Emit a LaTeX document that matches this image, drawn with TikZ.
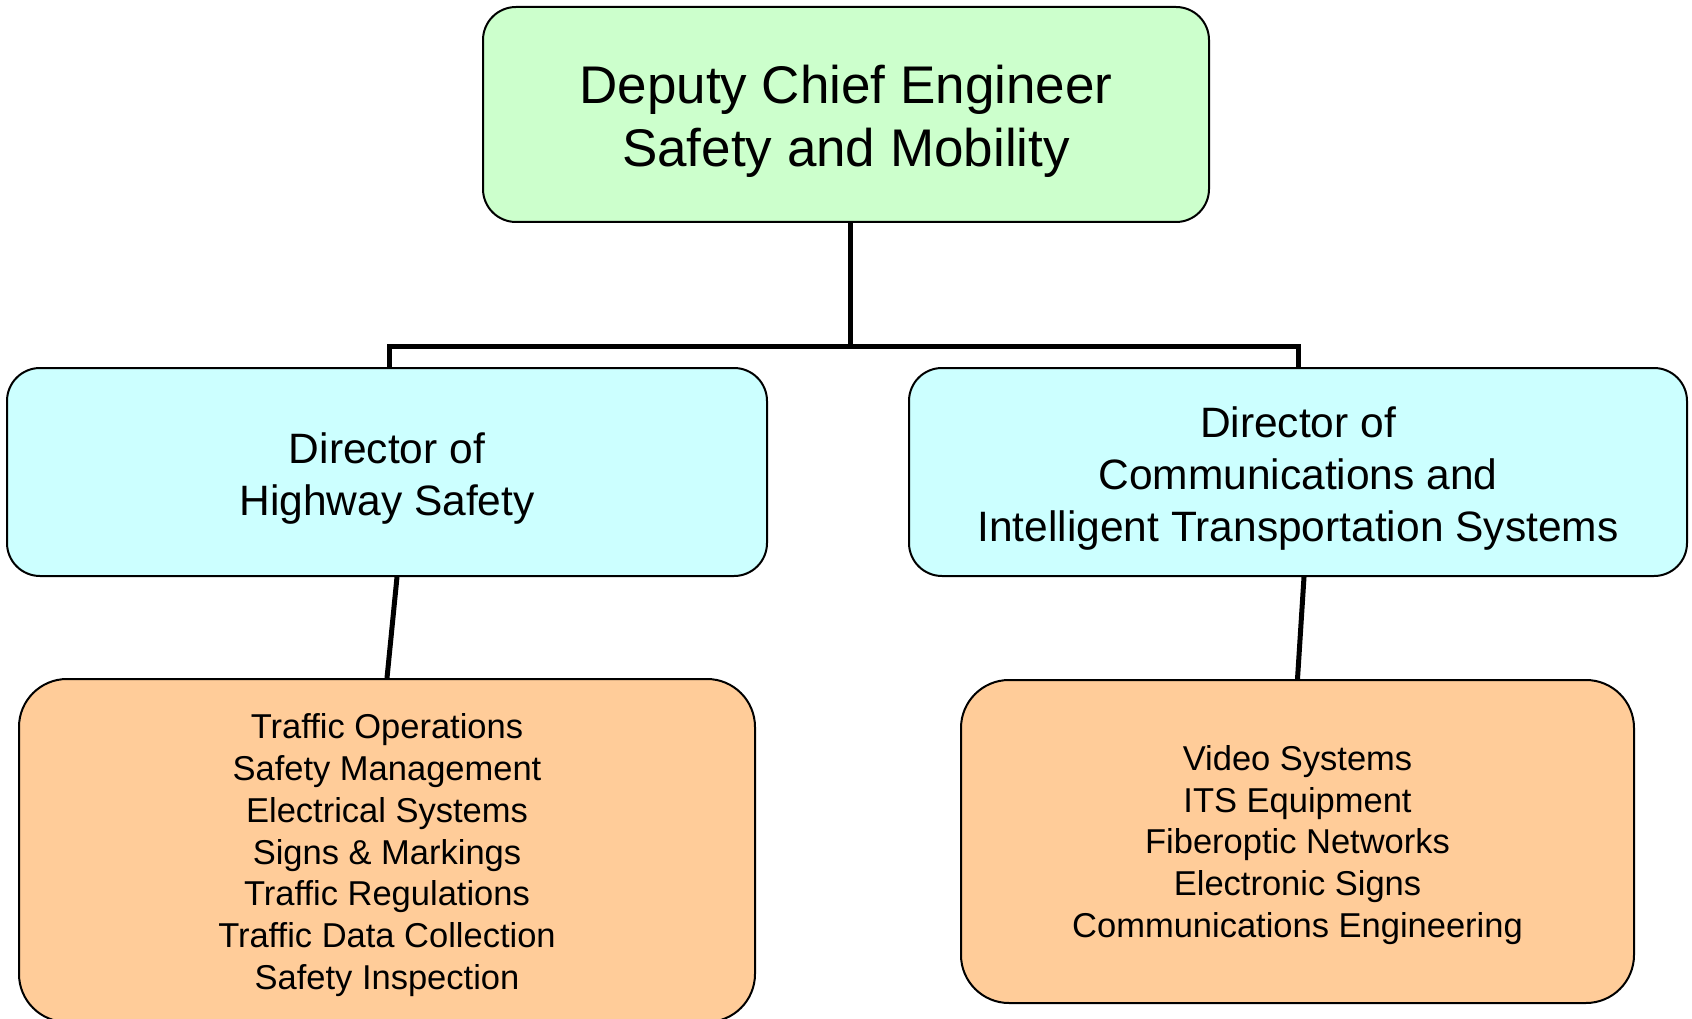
\documentclass[tikz,border=0pt]{standalone}
\usepackage{fontspec}
\setmainfont{Liberation Sans}
\usepackage{tikz}
\usetikzlibrary{calc, positioning}

\definecolor{chiefgreen}{HTML}{CCFFCC}
\definecolor{dircyan}{HTML}{CCFFFF}
\definecolor{unitorange}{HTML}{FFCC99}

\begin{document}
\begin{tikzpicture}[
    x=1pt, y=-1pt,
    box/.style={draw=black, line width=2pt, rounded corners=33pt, align=center, inner sep=0pt},
    chiefbox/.style={box, fill=chiefgreen, font=\fontsize{53}{63}\selectfont},
    dirbox/.style={box, fill=dircyan, font=\fontsize{42.5}{52}\selectfont},
    unitbox/.style={box, fill=unitorange, rounded corners=48pt, font=\fontsize{34.5}{41.7}\selectfont},
    link/.style={line width=5pt, draw=black}
]
    \useasboundingbox (0,0) rectangle (1692,1019);

    % Deputy Chief Engineer
    \node[chiefbox, text height=114.7pt, minimum width=726, minimum height=215] (dce) at (846,114.5)
        {Deputy Chief Engineer\\Safety and Mobility};

    % Directors
    \node[dirbox, text height=96pt, minimum width=760, minimum height=208] (hs) at (387,472)
        {Director of\\Highway Safety};
    \node[dirbox, text height=148pt, minimum width=778, minimum height=208] (its) at (1298,472)
        {Director of\\Communications and\\Intelligent Transportation Systems};

    % Units
    \node[unitbox, text height=284.4pt, minimum width=736, minimum height=343] (hsunits) at (387,850.5)
        {Traffic Operations\\Safety Management\\Electrical Systems\\Signs \& Markings\\Traffic Regulations\\Traffic Data Collection\\Safety Inspection};
    \node[unitbox, text height=198.5pt, minimum width=673, minimum height=323] (itsunits) at (1297.5,841.5)
        {Video Systems\\ITS Equipment\\Fiberoptic Networks\\Electronic Signs\\Communications Engineering};

    % Connectors
    \coordinate (bus) at (850,346);
    \draw[link] ([xshift=4pt]dce.south) -- (bus);
    \draw[link] ([xshift=2pt]hs.north) |- (bus) -| (its.north);
    \draw[link] ([xshift=10pt]hs.south) -- (hsunits.north);
    \draw[link] ([xshift=6pt]its.south) -- (itsunits.north);

\end{tikzpicture}
\end{document}
